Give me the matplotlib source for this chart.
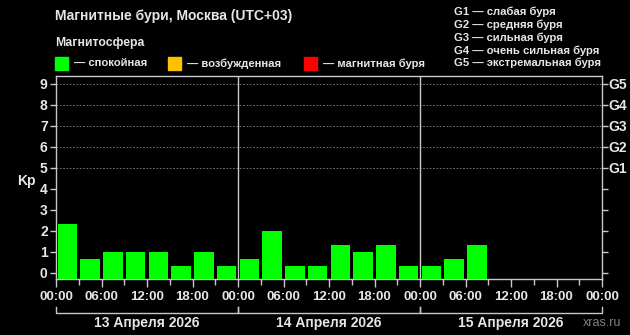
import matplotlib.pyplot as plt
import matplotlib.patches as mpatches
import numpy as np

plt.rcParams['font.family'] = ['Liberation Sans', 'DejaVu Sans']
plt.rcParams['font.weight'] = 'bold'

# Kp index, 3-hour intervals starting 13 April 00:00
kp = [2.33, 0.67, 1, 1, 1, 0.33, 1, 0.33,
      0.67, 2, 0.33, 0.33, 1.33, 1, 1.33, 0.33,
      0.33, 0.67, 1.33]
hour_labels = ['00:00', '06:00', '12:00', '18:00'] * 3 + ['00:00']
days = ['13 Апреля 2026', '14 Апреля 2026', '15 Апреля 2026']
g_labels = ['G1', 'G2', 'G3', 'G4', 'G5']
g_text = ['слабая буря', 'средняя буря', 'сильная буря',
          'очень сильная буря', 'экстремальная буря']

fg = '#e6e6e6'
green = '#00ff00'
orange = '#ffc000'
red = '#ff0000'

fig = plt.figure(figsize=(6.3, 3.35), dpi=100, facecolor='black')
ax = fig.add_axes([56/630, 1-279/335, 546/630, 203/335], facecolor='black')

ymin, ymax = -0.3, 9.38
x = np.arange(len(kp)) * 3
ax.bar(x + 1.5, np.array(kp) - ymin, bottom=ymin, width=2.6, color=green, zorder=3)

ax.set_xlim(0, 72)
ax.set_ylim(ymin, ymax)

# grid only for storm levels
for g in range(5, 10):
    ax.axhline(g, color='#888888', lw=0.6, ls=(0, (2, 2)), zorder=1)
for d in (24, 48):
    ax.axvline(d, color='#c8c8c8', lw=1, zorder=2)

for s in ax.spines.values():
    s.set_color('#c8c8c8')
    s.set_linewidth(1)

ax.set_yticks(range(10))
ax.set_yticklabels([str(i) for i in range(10)], fontsize=10, fontweight='bold', color=fg)
ax.set_xticks(np.arange(0, 73, 6))
ax.set_xticklabels(hour_labels, fontsize=9.5, fontweight='bold', color=fg)
ax.set_xticks(np.arange(0, 73, 3), minor=True)
ax.tick_params(axis='both', which='both', colors='#c8c8c8', width=1)
ax.tick_params(axis='x', which='major', length=6, pad=3)
ax.tick_params(axis='x', which='minor', length=4)
ax.tick_params(axis='y', length=4, pad=2)
for lbl in ax.get_xticklabels() + ax.get_yticklabels():
    lbl.set_color(fg)

ax2 = ax.twinx()
ax2.set_ylim(ymin, ymax)
ax2.set_yticks(range(10))
ax2.set_yticklabels([''] * 5 + g_labels, fontsize=10, fontweight='bold', color=fg)
ax2.tick_params(axis='y', colors='#c8c8c8', length=4, width=1, pad=0.5)
for lbl in ax2.get_yticklabels():
    lbl.set_color(fg)
for s in ax2.spines.values():
    s.set_visible(False)

fig.text(17/630, 1-181/335, 'Kp', fontsize=10, fontweight='bold', color=fg, va='center')

# day brackets under the axis
def px(xp, yp):
    return xp/630, 1-yp/335

trans = ax.get_xaxis_transform()
for i, day in enumerate(days):
    x0, x1 = i*24, (i+1)*24
    yb = -(313-279)/203
    yt = -(307-279)/203
    ax.plot([x0, x0, x1, x1], [yt, yb, yb, yt], color='#c8c8c8', lw=1,
            transform=trans, clip_on=False)
    ax.text((x0+x1)/2, -(323-279)/203, day, transform=trans, ha='center', va='center',
            fontsize=10, fontweight='bold', color=fg)

fig.text(*px(602, 323), 'xras.ru', fontsize=9, color='#808080', ha='center', va='center',
         fontweight='normal')

# header
fig.text(*px(55, 16), 'Магнитные бури, Москва (UTC+03)', fontsize=10, fontweight='bold',
         color=fg, va='center')
fig.text(*px(55, 43), 'Магнитосфера', fontsize=8.8, fontweight='bold', color=fg, va='center')

legend_items = [(55, green, '— спокойная'), (168, orange, '— возбужденная'),
                (304, red, '— магнитная буря')]
for xp, col, txt in legend_items:
    fig.patches.append(mpatches.Rectangle(px(xp, 70), 13/630, 13/335, color=col,
                                          transform=fig.transFigure, figure=fig))
    fig.text(*px(xp+19, 63.5), txt, fontsize=8.1, fontweight='bold', color=fg, va='center')

for i, (g, t) in enumerate(zip(g_labels, g_text)):
    fig.text(*px(454, 12 + i*12.8), f'{g} — {t}', fontsize=8.1, fontweight='bold',
             color=fg, va='center')

fig.savefig('out.png', dpi=100, facecolor='black')
